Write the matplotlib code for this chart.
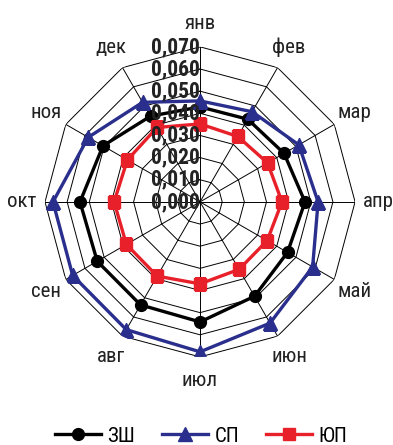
import numpy as np
import matplotlib
matplotlib.use("Agg")
import matplotlib.pyplot as plt

plt.rcParams['font.family'] = ['Roboto Condensed', 'PT Sans Narrow', 'DejaVu Sans']

months = ['янв', 'фев', 'мар', 'апр', 'май', 'июн',
          'июл', 'авг', 'сен', 'окт', 'ноя', 'дек']
zsh = [0.0429, 0.0431, 0.0438, 0.0474, 0.0456, 0.0492,
       0.0542, 0.0537, 0.0536, 0.0542, 0.0506, 0.0447]
sp = [0.0456, 0.0470, 0.0515, 0.0533, 0.0587, 0.0632,
      0.0677, 0.0666, 0.0664, 0.0664, 0.0583, 0.0519]
yup = [0.0352, 0.0341, 0.0352, 0.0370, 0.0350, 0.0352,
       0.0370, 0.0387, 0.0384, 0.0388, 0.0379, 0.0388]
rticks = [0.0, 0.01, 0.02, 0.03, 0.04, 0.05, 0.06, 0.07]

n = len(months)
theta = np.arange(n) * 2 * np.pi / n
theta_c = np.append(theta, theta[0])

fig = plt.figure(figsize=(3.93, 4.45), dpi=100)
ax = fig.add_axes([0.1145, 0.1978, 0.789, 0.697], projection='polar')
ax.set_theta_zero_location('N')
ax.set_theta_direction(-1)
ax.set_ylim(0, 0.07)
ax.grid(False)
ax.spines['polar'].set_visible(False)
ax.set_xticks([])
ax.set_yticks([])
ax.patch.set_alpha(0)

# polygon grid
for r in rticks[1:]:
    ax.plot(theta_c, [r] * (n + 1), color='black', lw=0.7, zorder=1)
for t in theta:
    ax.plot([t, t], [0, 0.07], color='black', lw=0.7, zorder=1)

def close(v):
    return list(v) + [v[0]]

ax.plot(theta_c, close(zsh), color='black', lw=2.4, marker='o', ms=8.5, label='ЗШ', zorder=3)
ax.plot(theta_c, close(sp), color='#2a2e8c', lw=2.4, marker='^', ms=10, label='СП', zorder=3)
ax.plot(theta_c, close(yup), color='#e8202a', lw=2.4, marker='s', ms=8, label='ЮП', zorder=4)

# radial tick labels
for r in rticks:
    ax.text(0, r, f"{r:.3f}".replace('.', ','), ha='right', va='center',
            fontsize=15.5, fontweight='bold', color='#222222', zorder=5)

# month labels
for t, m in zip(theta, months):
    ax.text(t, 0.0805, m, ha='center', va='center', fontsize=15, color='#222222')

fig.legend(loc='center', bbox_to_anchor=(0.512, 0.02), ncol=3, frameon=False,
           fontsize=15, handlelength=2.2, columnspacing=1.3, handletextpad=0.3)

fig.savefig('out.png', dpi=100)
